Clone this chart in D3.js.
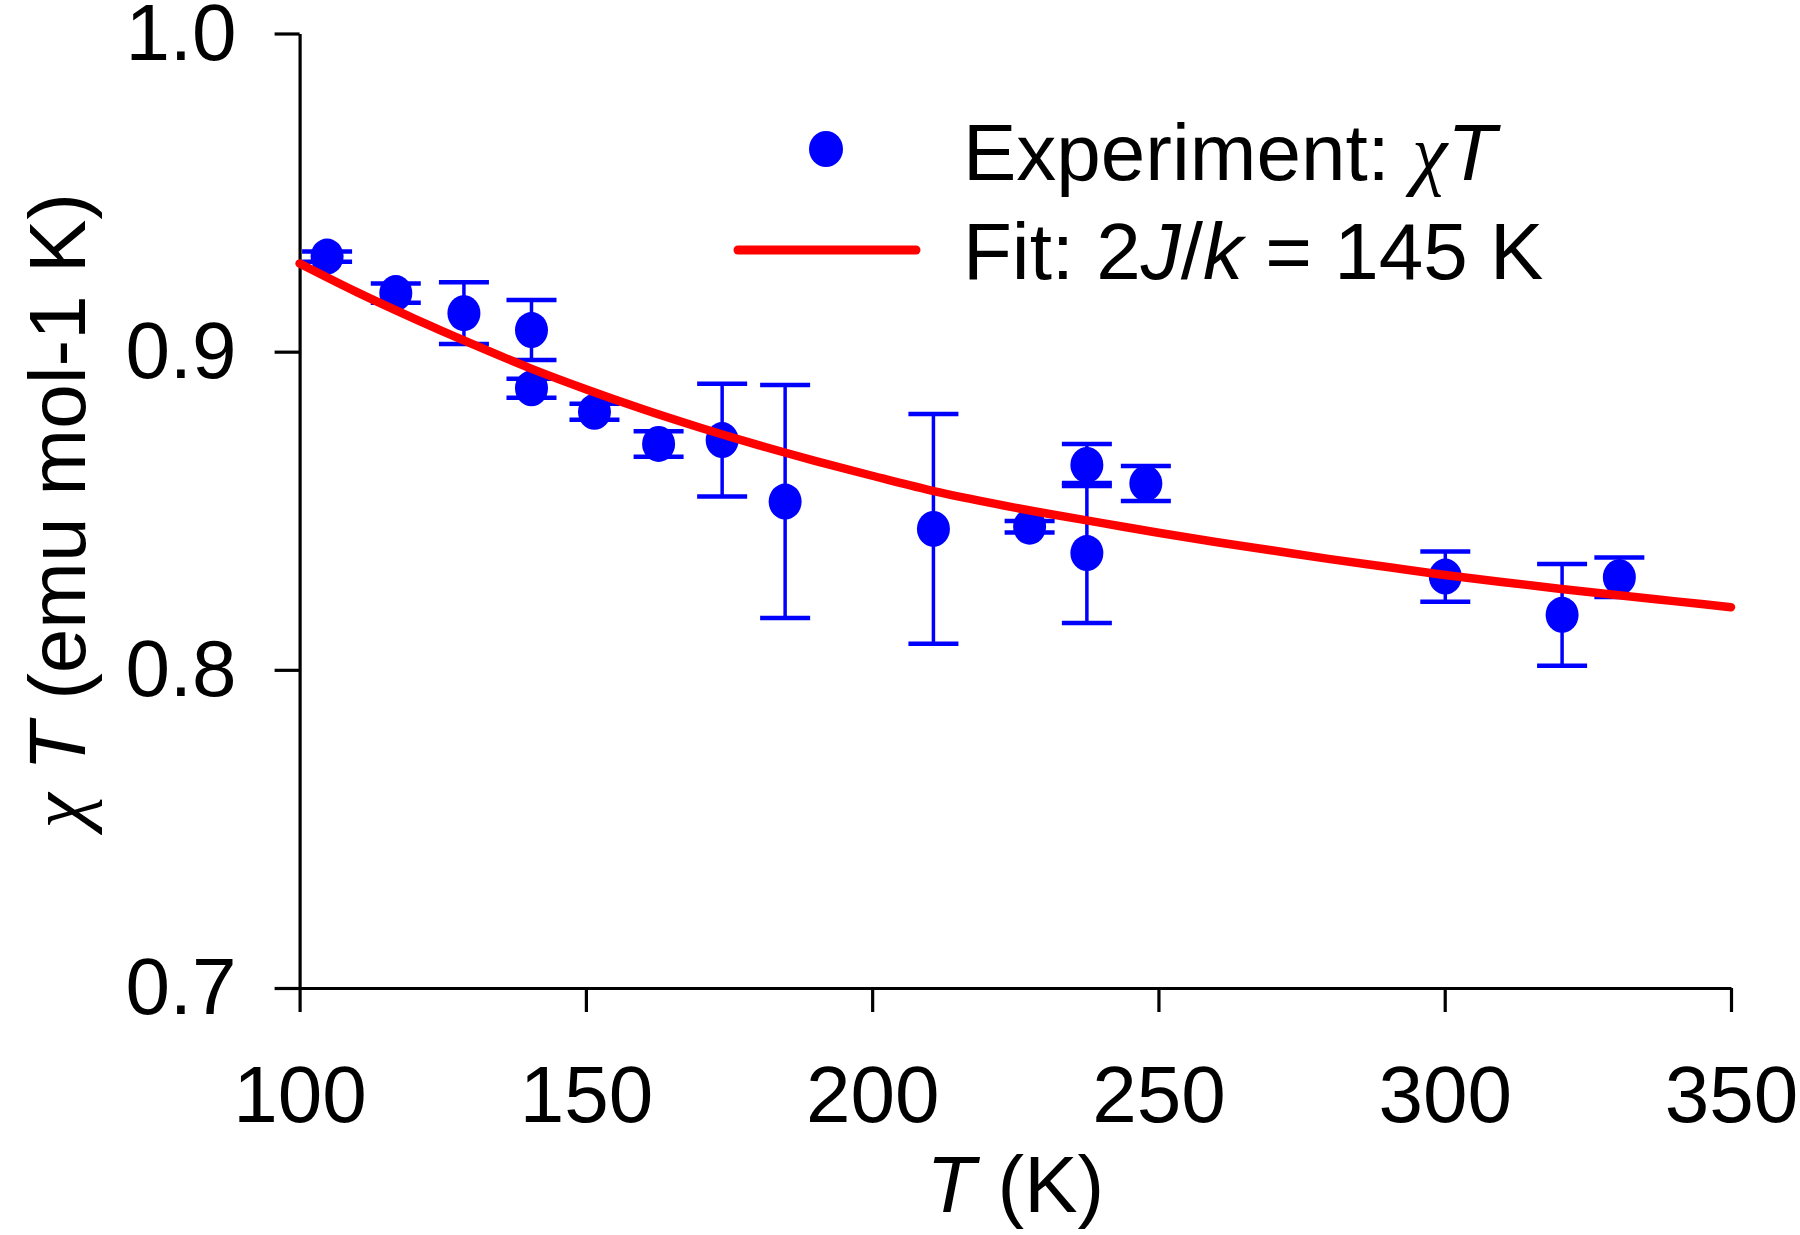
<!DOCTYPE html>
<html>
<head>
<meta charset="utf-8">
<script src="https://cdn.jsdelivr.net/npm/d3@7"></script>
<style>
  html, body { margin: 0; padding: 0; background: #fff; }
  svg { display: block; font-family: "Liberation Sans", Arial, sans-serif; }
</style>
</head>
<body>
<svg id="chart" width="1800" height="1235"></svg>
<script>
// ---- data ----
const temps = [104.8, 116.8, 128.7, 140.5, 140.5, 151.5, 162.7, 173.8, 184.8, 210.7, 227.5, 237.5, 237.5, 247.8, 300.1, 320.5, 330.5];
const chiT  = [0.9299, 0.9184, 0.9121, 0.9068, 0.8885, 0.8811, 0.8710, 0.8722, 0.8529, 0.8443, 0.8450, 0.8644, 0.8367, 0.8586, 0.8293, 0.8173, 0.8291];
const chiErr = [0.0016, 0.0030, 0.0097, 0.0094, 0.0030, 0.0025, 0.0040, 0.0177, 0.0366, 0.0361, 0.0018, 0.0066, 0.0220, 0.0055, 0.0079, 0.0160, 0.0062];

const fitT   = [100, 110, 120, 130, 140, 150, 160, 170, 180, 190, 200, 210, 220, 230, 240, 250, 260, 270, 280, 290, 300, 310, 320, 330, 340, 350];
const fitChi = [0.9277, 0.9187, 0.9104, 0.9025, 0.8950, 0.8882, 0.8819, 0.8761, 0.8707, 0.8657, 0.8610, 0.8565, 0.8527, 0.8493, 0.8462, 0.8431, 0.8402, 0.8375, 0.8348, 0.8323, 0.8298, 0.8276, 0.8255, 0.8235, 0.8216, 0.8197];

const xTicks = [100, 150, 200, 250, 300, 350];
const yTicks = [0.7, 0.8, 0.9, 1.0];

// ---- layout ----
const svg = d3.select("#chart");
const mLeft = 299.6, mRight = 1731, mTop = 33.5, mBottom = 988;
const FS = 80;

const x = d3.scaleLinear().domain([100, 350]).range([mLeft, mRight]);
const y = d3.scaleLinear().domain([0.7, 1.0]).range([mBottom, mTop]);

// axes
const xAxis = d3.axisBottom(x).tickValues(xTicks).tickFormat(d3.format("d"))
  .tickSize(24).tickSizeOuter(0).tickPadding(53);
const yAxis = d3.axisLeft(y).tickValues(yTicks).tickFormat(d3.format(".1f"))
  .tickSize(25).tickSizeOuter(0).tickPadding(38);

const gx = svg.append("g").attr("transform", `translate(0,${mBottom})`).call(xAxis);
const gy = svg.append("g").attr("transform", `translate(${mLeft},0)`).call(yAxis);
[gx, gy].forEach(g => {
  g.select(".domain").attr("stroke", "#000").attr("stroke-width", 3.2);
  g.selectAll(".tick line").attr("stroke", "#000").attr("stroke-width", 3.2);
  g.selectAll(".tick text").attr("fill", "#000")
    .style("font-size", FS + "px").style("font-family", "'Liberation Sans', Arial, sans-serif");
});

// axis titles
const xt = svg.append("text").attr("x", (mLeft + mRight) / 2).attr("y", 1212)
  .attr("text-anchor", "middle").style("font-size", FS + "px").attr("fill", "#000");
xt.append("tspan").attr("font-style", "italic").text("T");
xt.append("tspan").text(" (K)");

const yt = svg.append("text")
  .attr("transform", `translate(85,${(mTop + mBottom) / 2}) rotate(-90)`)
  .attr("text-anchor", "middle").style("font-size", FS + "px").attr("fill", "#000");
yt.append("tspan").attr("font-style", "italic").style("font-family", "'Liberation Serif', serif").text("χ");
yt.append("tspan").attr("font-style", "italic").text(" T");
yt.append("tspan").text(" (emu mol-1 K)");

// data
const pts = temps.map((t, i) => ({ t, v: chiT[i], e: chiErr[i] }));
const capW = 25;
const eb = svg.append("g").attr("stroke", "#0000ff").attr("stroke-width", 3.5).attr("fill", "none");
pts.forEach(d => {
  const cx = x(d.t), y1 = y(d.v + d.e), y2 = y(d.v - d.e);
  eb.append("line").attr("x1", cx).attr("x2", cx).attr("y1", y1).attr("y2", y2);
  eb.append("line").attr("x1", cx - capW).attr("x2", cx + capW).attr("y1", y1).attr("y2", y1).attr("stroke-width", 4.5);
  eb.append("line").attr("x1", cx - capW).attr("x2", cx + capW).attr("y1", y2).attr("y2", y2).attr("stroke-width", 4.5);
});
svg.append("g").selectAll("ellipse").data(pts).join("ellipse")
  .attr("cx", d => x(d.t)).attr("cy", d => y(d.v))
  .attr("rx", 16.5).attr("ry", 18).attr("fill", "#0000ff");

// fit line
const line = d3.line().x(d => x(d[0])).y(d => y(d[1])).curve(d3.curveMonotoneX);
svg.append("path").datum(fitT.map((t, i) => [t, fitChi[i]]))
  .attr("d", line).attr("fill", "none").attr("stroke", "#ff0000")
  .attr("stroke-width", 8.5).attr("stroke-linecap", "round");

// legend
const lg = svg.append("g");
lg.append("ellipse").attr("cx", 826).attr("cy", 149).attr("rx", 17).attr("ry", 18).attr("fill", "#0000ff");
lg.append("line").attr("x1", 738).attr("x2", 916).attr("y1", 250).attr("y2", 250)
  .attr("stroke", "#ff0000").attr("stroke-width", 9).attr("stroke-linecap", "round");
const l1 = lg.append("text").attr("x", 963).attr("y", 180).style("font-size", FS + "px").attr("fill", "#000");
l1.append("tspan").text("Experiment: ");
l1.append("tspan").attr("font-style", "italic").style("font-family", "'Liberation Serif', serif").text("χ");
l1.append("tspan").attr("font-style", "italic").text("T");
const l2 = lg.append("text").attr("x", 963).attr("y", 279).style("font-size", FS + "px").attr("fill", "#000");
l2.append("tspan").text("Fit: 2");
l2.append("tspan").attr("font-style", "italic").text("J");
l2.append("tspan").text("/");
l2.append("tspan").attr("font-style", "italic").text("k");
l2.append("tspan").text(" = 145 K");
</script>
</body>
</html>
